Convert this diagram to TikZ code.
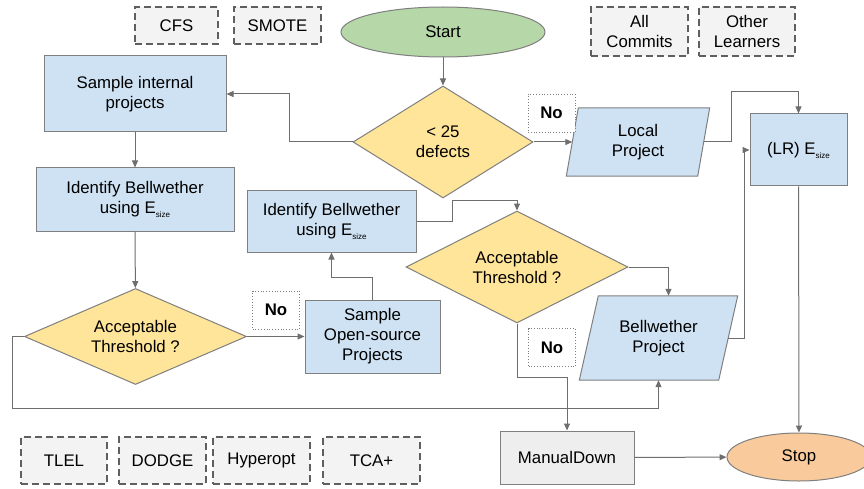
\documentclass[tikz,border=0pt]{standalone}
\usepackage{fontspec}
\setmainfont{Liberation Sans}
\usetikzlibrary{shapes.geometric,arrows.meta,backgrounds}
\definecolor{boxblue}{HTML}{CFE2F3}
\definecolor{diayel}{HTML}{FFE599}
\definecolor{startg}{HTML}{B6D7A8}
\definecolor{stopo}{HTML}{F9CB9C}
\definecolor{mdgrey}{HTML}{EEEEEE}
\definecolor{dashfill}{HTML}{F3F3F3}
\definecolor{edgec}{HTML}{6E6E6E}
\definecolor{bordc}{HTML}{7F7F7F}
\definecolor{dashc}{HTML}{5F5F5F}
\newcommand{\Esize}{E\raisebox{-0.45ex}{\fontsize{8}{8}\selectfont size}}
\begin{document}
\begin{tikzpicture}[x=1pt,y=-1pt,
  font=\fontsize{16.8}{20}\selectfont,
  every node/.style={align=center, inner sep=0pt},
  procbox/.style={rectangle, draw=bordc, line width=1pt, fill=boxblue},
  decbox/.style={diamond, draw=bordc, line width=1pt, fill=diayel, aspect=2},
  iobox/.style={rectangle},
  paraline/.style={draw=bordc, line width=1pt, fill=boxblue},
  tagbox/.style={rectangle, draw=dashc, line width=1.8pt, dash pattern=on 7pt off 4pt, fill=dashfill},
  nobox/.style={rectangle, draw=bordc, line width=0.8pt, dotted, fill=white, font=\fontsize{16.8}{20}\selectfont\bfseries, minimum width=47, minimum height=38},
  conn/.style={draw=edgec, line width=1pt, -{Triangle[length=7pt,width=6pt]}}]
\useasboundingbox (0,0) rectangle (864,489);

% option boxes
\node[tagbox, minimum width=83, minimum height=37] (cfs) at (176.5,25.5) {CFS};
\node[tagbox, minimum width=87, minimum height=37] (smote) at (277.5,25.5) {SMOTE};
\node[tagbox, minimum width=97, minimum height=49] (allc) at (639.5,31.5) {All\\Commits};
\node[tagbox, minimum width=96, minimum height=49] (oth) at (747,31.5) {Other\\Learners};
\node[tagbox, minimum width=86, minimum height=47] (tlel) at (64,460.5) {TLEL};
\node[tagbox, minimum width=87, minimum height=47] (dodge) at (162.5,460.5) {DODGE};
\node[tagbox, minimum width=97, minimum height=47] (hyp) at (261.5,460.5) {Hyperopt};
\node[tagbox, minimum width=97, minimum height=47] (tca) at (371.5,460.5) {TCA+};

% flow
\node[ellipse, draw=bordc, line width=1pt, fill=startg, minimum width=204, minimum height=50] (start) at (443,32) {Start};
\node[decbox, minimum width=180, minimum height=112] (d1) at (443,142) {{<} 25\\defects};
\node[procbox, minimum width=182, minimum height=76] (sip) at (135,94) {Sample internal\\projects};
\node[procbox, minimum width=198, minimum height=63] (idb1) at (135,199.5) {Identify Bellwether\\using \Esize};
\node[procbox, minimum width=169, minimum height=61] (idb2) at (331.5,221.5) {Identify Bellwether\\using \Esize};
\node[decbox, minimum width=222, minimum height=112] (d2) at (517,267) {Acceptable\\Threshold ?};
\node[decbox, minimum width=222, minimum height=96] (d3) at (135.5,336.5) {Acceptable\\Threshold ?};
\node[procbox, minimum width=135, minimum height=73] (sos) at (372.5,336.5) {Sample\\Open-source\\Projects};
\node[iobox, minimum width=131, minimum height=68] (lp) at (638,142) {Local\\Project};
\node[iobox, minimum width=139, minimum height=84] (bw) at (658.5,338) {Bellwether\\Project};
\node[procbox, minimum width=97, minimum height=72] (lr) at (798.5,150) {(LR) \Esize};
\node[rectangle, draw=bordc, line width=1pt, fill=mdgrey, minimum width=134, minimum height=53] (md) at (567,457.5) {ManualDown};
\node[ellipse, draw=bordc, line width=1pt, fill=stopo, minimum width=144, minimum height=48] (stop) at (799,457) {Stop};

\begin{scope}[on background layer]
\draw[paraline] ([xshift=6pt]lp.north west) -- ([xshift=6pt]lp.north east) -- ([xshift=-6pt]lp.south east) -- ([xshift=-6pt]lp.south west) -- cycle;
\draw[paraline] ([xshift=9.5pt]bw.north west) -- ([xshift=9.5pt]bw.north east) -- ([xshift=-9.5pt]bw.south east) -- ([xshift=-9.5pt]bw.south west) -- cycle;
\end{scope}

\node[nobox] (no1) at (551.5,113) {No};
\node[nobox] (no2) at (276,310) {No};
\node[nobox] (no3) at (552,347.5) {No};

% junction points
\coordinate (j1) at (289,142);
\coordinate (j2) at (731,92);
\coordinate (j3) at (331.5,277);
\coordinate (j4) at (452,200);
\coordinate (j5) at (567,377);
\coordinate (j6) at (12,336.5);
\coordinate (j7) at (658.5,408);
\coordinate (j8) at (744,150);

% connectors
\draw[conn] (start) -- (d1);
\draw[conn] (d1.west) -- (j1) |- (sip.east);
\draw[conn] (d1.east) -- (lp.west);
\draw[conn] (lp.east) -| (j2) -| (lr.north);
\draw[conn] (sip) -- (idb1);
\draw[conn] (idb1) -- (d3);
\draw[conn] (d3.east) -- (sos.west);
\draw[conn] (sos.north) |- (j3) -- (idb2.south);
\draw[conn] (idb2.east) -| (j4) -| (d2.north);
\draw[conn] (d2.east) -| ([xshift=10pt]bw.north);
\draw[conn] (d2.south) |- (j5) -- (md.north);
\draw[conn] (d3.west) -- (j6) |- (j7) -- (bw.south);
\draw[conn] (bw.east) -| (j8) -- (lr.west);
\draw[conn] (lr) -- (stop);
\draw[conn] (md) -- (stop);
\end{tikzpicture}
\end{document}
